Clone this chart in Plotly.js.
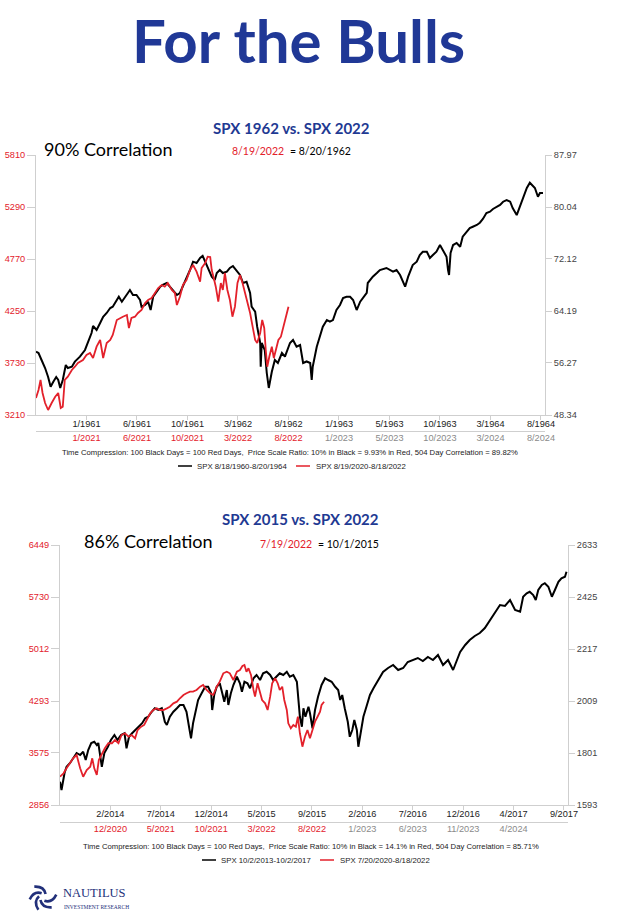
<!DOCTYPE html>
<html><head><meta charset="utf-8">
<script src="https://cdn.plot.ly/plotly-3.0.1.min.js"></script>
<style>html,body{margin:0;padding:0;background:#fff}#chart{width:621px;height:922px}</style>
</head><body><div id="chart"></div><script>
// ---------- Chart 1 data: SPX 1962 (black, right axis) vs SPX 2022 (red, left axis) ----------
const blackDays1 = [0,5,11,18,24,29,34,40,44,48,53,59,63,71,77,87,97,103,110,113,120,127,133,140,147,152,160,164,170,176,182,186,192,199,206,209,216,222,227,232,239,246,251,259,265,271,279,285,291,298,305,311,318,325,330,335,341,348,354,358,364,370,378,384,390,397,404,410,417,424,427,434,438,444,445,447,453,457,461,467,473,479,487,493,503,509,516,523,529,536,543,546,548,556,562,568,576,582,588,595,602,608,615,622,628,635,642,647,655,657,667,675,681,694,707,714,721,731,737,746,754,760,766,774,780,786,793,800,806,813,816,818,821,826,833,840,845,853,859,865,873,879,885,892,899,905,912,919,925,932,939,944,952,958,964,972,978,982,988,994,998,1004];
const blackSpx1962 = [57.99,57.79,56.72,55.50,54.13,52.65,53.37,54.13,53.68,52.46,53.68,55.96,55.50,55.70,56.47,57.23,58.25,59.32,60.84,61.91,61.30,62.36,63.32,63.89,64.65,64.85,65.87,66.37,65.61,66.37,66.94,67.39,66.63,66.63,65.87,64.85,65.11,65.61,64.34,66.37,67.13,67.90,68.16,68.46,67.90,67.39,66.63,66.94,67.90,69.22,70.44,71.71,71.51,72.27,72.58,71.71,70.44,69.42,68.92,69.98,70.44,69.98,70.18,70.75,71.05,70.44,69.68,68.46,68.66,66.94,64.85,64.09,61.80,59.32,55.70,59.32,58.25,54.74,52.46,54.94,56.72,56.27,57.79,57.23,59.32,59.77,58.75,59.01,56.27,56.50,56.27,53.68,55.70,58.75,60.28,61.80,62.82,62.56,62.82,64.34,65.11,66.17,66.37,66.37,65.87,64.34,65.61,66.17,66.94,68.46,69.42,69.98,70.44,70.75,70.18,70.44,69.68,67.90,69.42,71.20,71.71,72.73,73.23,73.23,72.27,72.73,73.23,74.25,73.49,72.47,70.44,69.68,73.03,74.25,74.56,73.99,75.52,76.28,76.84,77.04,77.30,77.65,78.22,79.13,79.33,79.74,80.09,80.35,80.85,81.11,80.85,79.89,78.82,80.09,81.11,82.94,83.75,83.40,82.94,81.61,82.18,82.18];
const redDays1 = [0,5,9,13,18,24,31,38,44,49,53,57,63,71,77,83,93,100,107,113,120,127,133,140,147,152,160,166,172,180,184,189,196,202,209,216,222,229,236,242,249,255,261,269,275,279,285,291,298,305,311,318,325,328,335,340,345,348,352,356,361,366,370,374,379,384,389,394,399,404,409,414,418,424,429,434,438,444,448,452,455,458,462,467,471,477,480,485,490,494,500];
const redSpx2022a = [3380,3460,3560,3430,3330,3260,3330,3393,3430,3280,3293,3560,3593,3660,3693,3730,3760,3810,3830,3780,3893,3960,3780,3930,3960,4010,4160,4180,4193,4210,4080,4180,4193,4230,4260,4330,4360,4380,4430,4480,4510,4493,4530,4460,4430,4310,4393,4510,4560,4660,4710,4643,4543,4680,4730,4793,4790,4660,4580,4493,4343,4530,4460,4630,4460,4360,4193,4293,4530,4610,4530,4430,4343,4230,4093,3960,3930,4030,4160,4080,3860,3693,3793,3893,3780,3893,3960,3993,4093,4160,4293];
const leftTicks1 = [3210,3730,4250,4770,5290,5810];
const rightTicks1 = ['48.34','56.27','64.19','72.12','80.04','87.97'];
const xTickDays1 = [100,200,300,400,500,600,700,800,900,1000];
const blackLabels1 = ['1/1961','6/1961','10/1961','3/1962','8/1962','1/1963','5/1963','10/1963','3/1964','8/1964'];
const redLabels1 = ['1/2021','6/2021','10/2021','3/2022','8/2022'];
const futureLabels1 = ['1/2023','5/2023','10/2023','3/2024','8/2024'];

// ---------- Chart 2 data: SPX 2015 (black, right axis) vs SPX 2022 (red, left axis) ----------
const blackDays2 = [0,3,9,13,20,26,33,40,46,51,56,62,68,73,76,83,88,95,101,108,114,121,128,132,137,143,150,157,163,169,175,182,188,195,202,208,212,218,225,232,238,245,251,256,260,264,269,274,281,288,294,300,302,306,311,317,322,326,331,334,339,344,351,357,361,366,372,377,384,390,397,403,410,417,423,430,436,443,450,456,463,470,473,476,480,483,487,493,496,501,506,512,519,526,532,539,546,552,556,560,565,571,575,580,584,589,592,597,602,608,615,622,631,641,651,661,671,681,690,700,710,720,730,740,750,760,770,780,786,794,804,813,823,833,843,853,863,873,883,893,903,913,919,926,932,939,944,949,956,962,969,976,982,989,995,1002,1005];
const blackSpx2015 = [1686,1653,1721,1746,1761,1781,1801,1793,1806,1773,1813,1841,1846,1833,1841,1746,1801,1826,1853,1873,1853,1873,1880,1820,1866,1880,1893,1906,1920,1940,1946,1966,1980,1973,1980,1926,1913,1946,1966,1980,1993,1993,1966,1906,1860,1920,1973,2013,2040,2066,2066,2040,1973,2033,2066,2080,2040,2006,2053,1993,2040,2073,2106,2080,2046,2086,2080,2060,2100,2113,2093,2120,2126,2113,2093,2106,2120,2113,2126,2106,2113,2086,2026,1946,1906,1980,1946,1986,1960,1900,1973,2026,2073,2100,2093,2086,2066,2053,2013,2033,1980,1926,1866,1893,1933,1893,1826,1893,1946,1986,2033,2060,2093,2125,2141,2153,2133,2141,2165,2173,2181,2169,2185,2173,2193,2153,2173,2133,2161,2205,2233,2253,2269,2281,2301,2333,2365,2393,2389,2413,2373,2366,2426,2440,2446,2433,2413,2453,2473,2480,2466,2426,2453,2486,2500,2506,2526];
const redDays2 = [0,7,13,20,26,33,40,46,53,60,64,68,73,77,83,89,96,103,109,116,122,129,136,142,149,154,161,167,172,179,185,192,198,205,212,218,225,232,238,245,251,258,264,271,278,284,291,298,304,311,317,324,331,337,344,347,351,357,362,366,370,374,379,384,387,392,397,401,407,412,417,421,427,432,436,441,445,450,453,458,463,468,472,476,481,486,491,496,501,506,511,516,519,524];
const redSpx2022b = [3247,3294,3363,3432,3501,3547,3363,3247,3340,3385,3501,3363,3271,3478,3570,3640,3709,3709,3754,3709,3823,3847,3800,3823,3778,3892,3938,3962,4031,4123,4169,4192,4169,4169,4192,4214,4261,4284,4331,4376,4400,4422,4422,4445,4491,4514,4445,4400,4376,4491,4560,4676,4698,4676,4583,4629,4698,4722,4777,4791,4698,4745,4653,4445,4353,4538,4422,4307,4261,4169,4353,4538,4607,4538,4445,4491,4307,4169,3985,3916,3962,3938,4076,3847,3662,3800,3892,3778,3892,4007,4076,4145,4238,4284];
const leftTicks2 = [2856,3575,4293,5012,5730,6449];
const rightTicks2 = [1593,1801,2009,2217,2425,2633];
const xTickDays2 = [100,200,300,400,500,600,700,800,900,1000];
const blackLabels2 = ['2/2014','7/2014','12/2014','5/2015','9/2015','2/2016','7/2016','12/2016','4/2017','9/2017'];
const redLabels2 = ['12/2020','5/2021','10/2021','3/2022','8/2022'];
const futureLabels2 = ['1/2023','6/2023','11/2023','4/2024'];

// ---------- texts ----------
const pageTitle = 'For the Bulls';
const chartTitles = ['SPX 1962 vs. SPX 2022','SPX 2015 vs. SPX 2022'];
const corrTexts = ['90% Correlation','86% Correlation'];
const matchRed = ['8/19/2022','7/19/2022'];
const matchBlack = ['= 8/20/1962','= 10/1/2015'];
const captions = ['Time Compression: 100 Black Days = 100 Red Days,  Price Scale Ratio: 10% in Black = 9.93% in Red, 504 Day Correlation = 89.82%',
                  'Time Compression: 100 Black Days = 100 Red Days,  Price Scale Ratio: 10% in Black = 14.1% in Red, 504 Day Correlation = 85.71%'];
const blackNames = ['SPX 8/18/1960-8/20/1964','SPX 10/2/2013-10/2/2017'];
const redNames = ['SPX 8/19/2020-8/18/2022','SPX 7/20/2020-8/18/2022'];

// ---------- layout helpers ----------
const W = 621, H = 922;
const fx = p => p / W, fy = p => 1 - p / H;
const RED = '#e3212b', NAVY = '#1f3a93', GRID = '#cfcfcf', GRAY = '#8a8a8a';
const SANS = 'Liberation Sans, Arial, sans-serif';
const TITLEF = 'Lato, Carlito, Calibri, sans-serif';

function rowText(reds, futures) {
  return reds.map(t => '<span style="color:' + RED + '">' + t + '</span>')
    .concat(futures.map(t => '<span style="color:' + GRAY + '">' + t + '</span>'));
}

const charts = [
  {x0: 36, x1: 545, y0: 155, y1: 415, row2: 431, left: leftTicks1, right: rightTicks1,
   tv: xTickDays1, bl: blackLabels1, r2: rowText(redLabels1, futureLabels1), r2v: xTickDays1.slice(0, 10),
   titleX: 291, titleY: 128, corrX: 42, corrY: 149, redX: 230, blkX: 288, matchY: 151,
   capX: 290, capY: 453, legY: 466, legB: 178, legR: 296},
  {x0: 60, x1: 568, y0: 545, y1: 805, row2: 822, left: leftTicks2, right: rightTicks2,
   tv: xTickDays2, bl: blackLabels2, r2: rowText(redLabels2, futureLabels2), r2v: xTickDays2.slice(0, 9),
   titleX: 300, titleY: 519, corrX: 82, corrY: 541, redX: 258, blkX: 316, matchY: 544,
   capX: 311, capY: 846, legY: 860, legB: 202, legR: 320}
];

const data = [
  {x: blackDays1, y: blackSpx1962, xaxis: 'x', yaxis: 'y', mode: 'lines', line: {color: '#000', width: 2}, name: blackNames[0]},
  {x: redDays1, y: redSpx2022a, xaxis: 'x', yaxis: 'y2', mode: 'lines', line: {color: RED, width: 1.8}, name: redNames[0]},
  {x: blackDays2, y: blackSpx2015, xaxis: 'x2', yaxis: 'y3', mode: 'lines', line: {color: '#000', width: 2}, name: blackNames[1]},
  {x: redDays2, y: redSpx2022b, xaxis: 'x2', yaxis: 'y4', mode: 'lines', line: {color: RED, width: 1.8}, name: redNames[1]},
  {x: [0, 1008], y: [null, null], xaxis: 'x3', yaxis: 'y', mode: 'lines', showlegend: false},
  {x: [0, 1008], y: [null, null], xaxis: 'x4', yaxis: 'y3', mode: 'lines', showlegend: false}
];

const tickFont = c => ({family: SANS, size: 9.2, color: c});
const layout = {
  width: W, height: H, margin: {l: 0, r: 0, t: 0, b: 0}, showlegend: false,
  paper_bgcolor: '#fff', plot_bgcolor: '#fff', font: {family: SANS},
  annotations: [], shapes: []
};
const yr = [['y', 'y2', 'x', 'x3'], ['y3', 'y4', 'x2', 'x4']];
charts.forEach((c, i) => {
  const xd = [fx(c.x0), fx(c.x1)], yd = [fy(c.y1), fy(c.y0)];
  const [yR, yL, xB, xS] = yr[i];
  const nm = s => s === 'x' || s === 'y' ? s + 'axis' : s[0] + 'axis' + s.slice(1);
  layout[nm(xB)] = {domain: xd, range: [0, 1008], anchor: yR, showline: true, linecolor: GRID, linewidth: 1,
    ticks: 'outside', ticklen: 4, tickcolor: GRID, tickvals: c.tv, ticktext: c.bl, tickfont: tickFont('#222'),
    ticklabelstandoff: -4, showgrid: false, zeroline: false, fixedrange: true};
  layout[nm(xS)] = {overlaying: xB, anchor: 'free', position: fy(c.row2), range: [0, 1008], showline: true,
    linecolor: GRID, linewidth: 1, ticks: '', tickvals: c.r2v, ticktext: c.r2, tickfont: tickFont(GRAY),
    ticklabelstandoff: -2, showgrid: false, zeroline: false, fixedrange: true};
  layout[nm(yR)] = {domain: yd, anchor: xB, side: 'right', range: i === 0 ? [48.34, 87.97] : [1593, 2633],
    showline: true, linecolor: GRID, ticks: 'outside', ticklen: 6, tickcolor: GRID,
    tickvals: c.right.map(Number), ticktext: c.right.map(String), tickfont: tickFont('#444'),
    showgrid: false, zeroline: false, fixedrange: true};
  layout[nm(yL)] = {overlaying: yR, anchor: xB, side: 'left', range: i === 0 ? [3210, 5810] : [2856, 6449],
    showline: true, linecolor: GRID, ticks: 'outside', ticklen: 8, tickcolor: GRID,
    tickvals: c.left, ticktext: c.left.map(String), tickfont: tickFont(RED),
    showgrid: false, zeroline: false, fixedrange: true};

  const A = (text, x, y, font, xanchor) => layout.annotations.push({text, x: fx(x), y: fy(y), xref: 'paper', yref: 'paper',
    xanchor: xanchor || 'center', yanchor: 'middle', showarrow: false, font});
  A(chartTitles[i], c.titleX, c.titleY, {family: TITLEF, size: 15, color: NAVY, weight: 700});
  A(corrTexts[i], c.corrX, c.corrY, {family: TITLEF, size: 18, color: '#000'}, 'left');
  A(matchRed[i], c.redX, c.matchY, {family: TITLEF, size: 10.5, color: RED}, 'left');
  A(matchBlack[i], c.blkX, c.matchY, {family: TITLEF, size: 10.5, color: '#000'}, 'left');
  A(captions[i], c.capX, c.capY, {family: SANS, size: 7.7, color: '#222'});
  A(blackNames[i], c.legB + 17, c.legY, {family: SANS, size: 7.8, color: '#222'}, 'left');
  A(redNames[i], c.legR + 18, c.legY, {family: SANS, size: 7.8, color: '#222'}, 'left');
  layout.shapes.push({type: 'line', xref: 'paper', yref: 'paper', x0: fx(c.legB), x1: fx(c.legB + 14), y0: fy(c.legY), y1: fy(c.legY), line: {color: '#000', width: 1.5}});
  layout.shapes.push({type: 'line', xref: 'paper', yref: 'paper', x0: fx(c.legR), x1: fx(c.legR + 14), y0: fy(c.legY), y1: fy(c.legY), line: {color: RED, width: 1.5}});
});

// page title
layout.annotations.push({text: pageTitle, x: fx(298), y: fy(40), xref: 'paper', yref: 'paper', showarrow: false,
  xanchor: 'center', yanchor: 'middle', font: {family: TITLEF, size: 60, color: '#203896', weight: 700}});

// logo
const LOGO = '#22307a';
layout.annotations.push({text: 'NAUTILUS', x: fx(61), y: fy(902), xref: 'paper', yref: 'paper', showarrow: false,
  xanchor: 'left', yanchor: 'bottom', font: {family: 'Liberation Serif, DejaVu Serif, serif', size: 12.5, color: LOGO}});
layout.annotations.push({text: 'INVESTMENT RESEARCH', x: fx(62), y: fy(902), xref: 'paper', yref: 'paper', showarrow: false,
  xanchor: 'left', yanchor: 'top', font: {family: 'Liberation Serif, DejaVu Serif, serif', size: 5.5, color: LOGO}});
const cx = 43, cy = 897;
[50, 110, 170, 230, 290].forEach(a => {
  const r = d => (a + d) * Math.PI / 180;
  const p = (rad, d) => [fx(cx + rad * Math.cos(r(d))), fy(cy - rad * Math.sin(r(d)))];
  const s = p(4, 0), q = p(11, 35), e = p(13.5, 80);
  layout.shapes.push({type: 'path', xref: 'paper', yref: 'paper', path: 'M' + s[0] + ',' + s[1] + ' Q' + q[0] + ',' + q[1] + ' ' + e[0] + ',' + e[1],
    line: {color: LOGO, width: 2.6}});
});

Plotly.newPlot('chart', data, layout, {staticPlot: true, displayModeBar: false});
</script></body></html>
